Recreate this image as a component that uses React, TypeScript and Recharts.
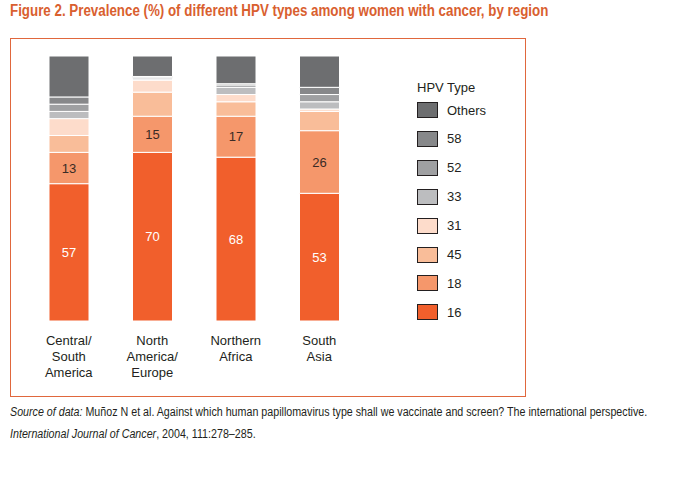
import { BarChart, Bar, XAxis, YAxis, LabelList } from "recharts";

const regionLines = [
  ["Central/", "South", "America"],
  ["North", "America/", "Europe"],
  ["Northern", "Africa"],
  ["South", "Asia"],
];
const regions = ["Central/South America", "North America/Europe", "Northern Africa", "South Asia"];

const hpv16 = [57, 70, 68, 53];
const hpv18 = [13, 15, 17, 26];
const hpv45 = [7, 10, 6, 8];
const hpv31 = [7, 5, 3, 1];
const hpv33 = [3, 0.5, 3, 3];
const hpv52 = [3, 0.5, 1, 3];
const hpv58 = [3, 0.5, 0.5, 3];
const others = [17, 8.5, 11.5, 13];

// stacking order, bottom first
const types = ["16", "18", "45", "31", "33", "52", "58", "Others"];
const typeColors = ["#f15f2c", "#f5976b", "#f9bd99", "#fddccb", "#bcbdbf", "#9fa0a2", "#87888a", "#6d6e70"];

const data = regions.map((name, i) => ({
  name,
  idx: i,
  "16": hpv16[i],
  "18": hpv18[i],
  "45": hpv45[i],
  "31": hpv31[i],
  "33": hpv33[i],
  "52": hpv52[i],
  "58": hpv58[i],
  Others: others[i],
}));

const sans = "'Liberation Sans', Arial, sans-serif";

function RegionTick(props: any) {
  const { x, y, payload } = props;
  const lines = regionLines[payload.index] || [];
  return (
    <text x={x} y={y} textAnchor="middle" fill="#231f20" fontSize={13} fontFamily={sans}>
      {lines.map((l, k) => (
        <tspan key={k} x={x} dy={k === 0 ? 16 : 16}>
          {l}
        </tspan>
      ))}
    </text>
  );
}

function HpvLegend() {
  const order = [...types].reverse();
  const colors = [...typeColors].reverse();
  return (
    <div style={{ position: "absolute", left: 417, top: 80, fontFamily: sans, fontSize: 13, color: "#231f20" }}>
      <div style={{ height: 16, lineHeight: "16px", marginBottom: 6 }}>HPV Type</div>
      {order.map((t, i) => (
        <div key={t} style={{ position: "absolute", top: 22 + i * 28.9, left: 0, display: "flex", alignItems: "center", whiteSpace: "nowrap" }}>
          <div style={{ width: 19, height: 14, background: colors[i], border: "1px solid #231f20" }} />
          <span style={{ marginLeft: 9 }}>{t}</span>
        </div>
      ))}
    </div>
  );
}

export default function App() {
  return (
    <div style={{ position: "absolute", left: 0, top: 0, width: 684, height: 498, background: "#fff", overflow: "hidden" }}>
      <div
        style={{
          position: "absolute",
          left: 10,
          top: 2,
          fontFamily: sans,
          fontWeight: "bold",
          fontSize: 16,
          color: "#d9602f",
          whiteSpace: "nowrap",
          transform: "scaleX(0.834)",
          transformOrigin: "left top",
        }}
      >
        Figure 2. Prevalence (%) of different HPV types among women with cancer, by region
      </div>
      <div
        style={{
          position: "absolute",
          left: 10,
          top: 38,
          width: 514,
          height: 357,
          border: "1px solid #e0673d",
        }}
      />
      <div style={{ position: "absolute", left: 0, top: 0 }}>
        <BarChart
          width={684}
          height={498}
          data={data}
          margin={{ top: 56, bottom: 0, left: 27, right: 323 }}
          barSize={40}
        >
          <XAxis
            dataKey="name"
            axisLine={false}
            tickLine={false}
            height={177}
            interval={0}
            tick={<RegionTick />}
          />
          <YAxis hide domain={[0, 110]} />
          {types.map((t, i) => (
            <Bar key={t} dataKey={t} stackId="a" fill={typeColors[i]} stroke="#fff" strokeWidth={1} isAnimationActive={false}>
              {t === "16" && (
                <LabelList dataKey="16" position="center" fill="#fff" fontSize={13} fontFamily={sans} />
              )}
              {t === "18" && (
                <LabelList dataKey="18" position="center" fill="#3a2b25" fontSize={13} fontFamily={sans} />
              )}
            </Bar>
          ))}
        </BarChart>
      </div>
      <HpvLegend />
      <div
        style={{
          position: "absolute",
          left: 10,
          top: 401,
          fontFamily: sans,
          fontSize: 12.5,
          lineHeight: "22px",
          color: "#231f20",
          whiteSpace: "nowrap",
          transform: "scaleX(0.855)",
          transformOrigin: "left top",
        }}
      >
        <i>Source of data:</i> Muñoz N et al. Against which human papillomavirus type shall we vaccinate and screen? The international perspective.
        <br />
        <i>International Journal of Cancer</i>, 2004, 111:278–285.
      </div>
    </div>
  );
}
